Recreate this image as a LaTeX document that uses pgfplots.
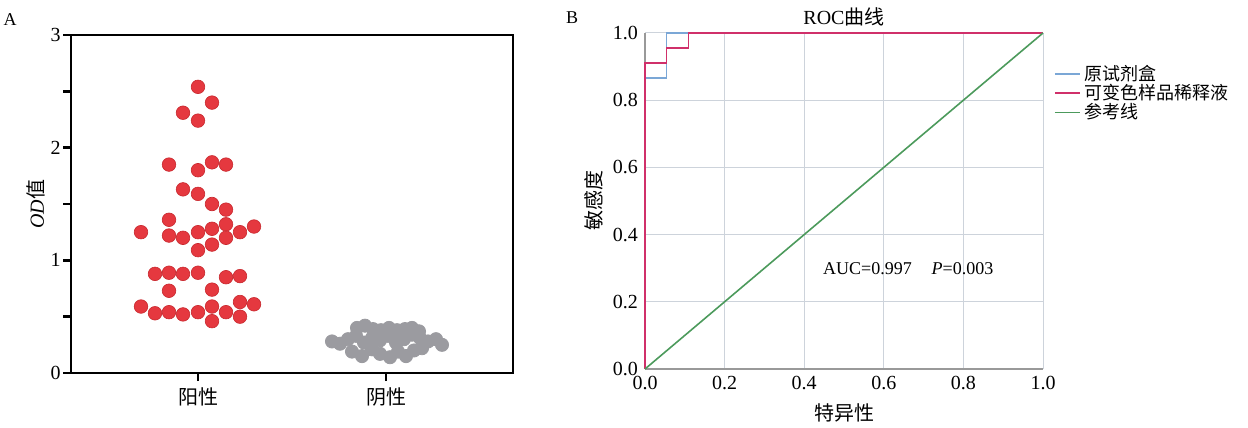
\documentclass[border=0pt]{standalone}
\usepackage{fontspec}
\setmainfont{Liberation Serif}
\newfontfamily\cjk{Noto Sans CJK SC}
\usepackage{pgfplots}
\pgfplotsset{compat=1.18}

\definecolor{dotred}{HTML}{E5383F}
\definecolor{dotredE}{HTML}{C8282E}
\definecolor{dotgray}{HTML}{9B9BA0}
\definecolor{rocblue}{HTML}{7BA7D6}
\definecolor{rocred}{HTML}{D0306A}
\definecolor{refgreen}{HTML}{4C9A5C}
\definecolor{gridc}{HTML}{CDD3DB}

\begin{document}
\begin{tikzpicture}
\useasboundingbox (0,0) rectangle (624pt,214pt);

% panel A: OD values
\begin{axis}[
  at={(35.5pt,27.5pt)}, anchor=south west,
  scale only axis, width=221pt, height=169pt,
  xmin=0, xmax=442, ymin=0, ymax=3,
  axis line style={line width=1.3pt},
  xtick={127,315}, xticklabels={{\cjk 阳性},{\cjk 阴性}},
  ytick={0,1,2,3}, yticklabels={0,1,2,3},
  minor ytick={0.5,1.5,2.5},
  tick align=outside, tick pos=left,
  major tick length=4pt, minor tick length=4pt,
  tick style={line width=1.3pt, black},
  tick label style={font=\fontsize{10}{12}\selectfont},
  yticklabel style={inner xsep=1pt},
  ylabel={\textit{OD}{\cjk 值}},
  ylabel style={font=\fontsize{10}{12}\selectfont, yshift=-2pt},
  clip=false,
]
\addplot[only marks, mark=*, mark size=3.4pt,
  mark options={fill=dotred, draw=dotredE, line width=0.3pt}]
  coordinates {
  (127,2.54)(141,2.40)(112,2.31)(127,2.24)
  (98,1.85)(127,1.80)(141,1.87)(155,1.85)
  (112,1.63)(127,1.59)(141,1.50)(155,1.45)
  (98,1.36)(70,1.25)(98,1.22)(112,1.20)(127,1.25)(141,1.28)(155,1.32)
  (169,1.25)(183,1.30)(155,1.20)(141,1.14)(127,1.09)
  (84,0.88)(98,0.89)(112,0.88)(127,0.89)(155,0.85)(169,0.86)
  (98,0.73)(141,0.74)
  (70,0.59)(84,0.53)(98,0.54)(112,0.52)(127,0.54)(141,0.59)(155,0.54)
  (169,0.63)(183,0.61)(141,0.46)(169,0.50)
  };
\addplot[only marks, mark=*, mark size=3.3pt,
  mark options={fill=dotgray, draw=dotgray}]
  coordinates {
  (286,0.40)(294,0.42)(302,0.39)(310,0.38)(318,0.40)(326,0.38)(334,0.39)(341,0.40)(348,0.37)
  (261,0.28)(269,0.26)(277,0.30)(285,0.33)(293,0.27)(301,0.31)(309,0.29)(317,0.33)
  (325,0.27)(333,0.30)(341,0.34)(349,0.31)(357,0.28)(365,0.30)(371,0.25)
  (281,0.19)(291,0.15)(301,0.21)(309,0.17)(319,0.14)(327,0.19)(335,0.15)(343,0.20)(351,0.22)
  };
\end{axis}

% panel B: ROC
\begin{axis}[
  at={(322.5pt,29.5pt)}, anchor=south west,
  scale only axis, width=199pt, height=168pt,
  xmin=0, xmax=1, ymin=0, ymax=1,
  axis lines=left, axis line style={gray!80, line width=0.6pt, -},
  grid=major, grid style={gridc, line width=0.5pt},
  xtick={0,0.2,0.4,0.6,0.8,1}, xticklabels={0.0,0.2,0.4,0.6,0.8,1.0},
  ytick={0,0.2,0.4,0.6,0.8,1}, yticklabels={0.0,0.2,0.4,0.6,0.8,1.0},
  major tick length=0pt,
  tick label style={font=\fontsize{10}{12}\selectfont},
  title={ROC{\cjk 曲线}},
  title style={font=\fontsize{10}{12}\selectfont, yshift=-6pt},
  xlabel={\cjk 特异性}, ylabel={\cjk 敏感度},
  label style={font=\fontsize{10}{12}\selectfont},
  ylabel style={yshift=-2pt},
  legend style={at={(1.012,0.93)}, anchor=north west, draw=none, fill=none,
    font=\fontsize{9}{9}\selectfont, row sep=-3.5pt},
  legend cell align=left,
  legend image code/.code={\draw[#1] (0cm,0cm) -- (0.44cm,0cm);},
  clip=false,
]
\addplot[rocblue, line width=0.8pt] coordinates {
  (0,0)(0,0.866)(0.054,0.866)(0.054,1)(1,1)};
\addlegendentry{\cjk 原试剂盒}
\addplot[rocred, line width=0.8pt] coordinates {
  (0,0)(0,0.91)(0.054,0.91)(0.054,0.955)(0.109,0.955)(0.109,1)(1,1)};
\addlegendentry{\cjk 可变色样品稀释液}
\addplot[refgreen, line width=0.8pt] coordinates {(0,0)(1,1)};
\addlegendentry{\cjk 参考线}
\node[anchor=west, font=\fontsize{9}{11}\selectfont] at (axis cs:0.43,0.30)
  {AUC=0.997\hspace{1.1em}\textit{P}=0.003};
\end{axis}

\node[font=\fontsize{9}{10}\selectfont] at (5pt,204pt) {A};
\node[font=\fontsize{9}{10}\selectfont] at (286pt,205pt) {B};
\end{tikzpicture}
\end{document}
